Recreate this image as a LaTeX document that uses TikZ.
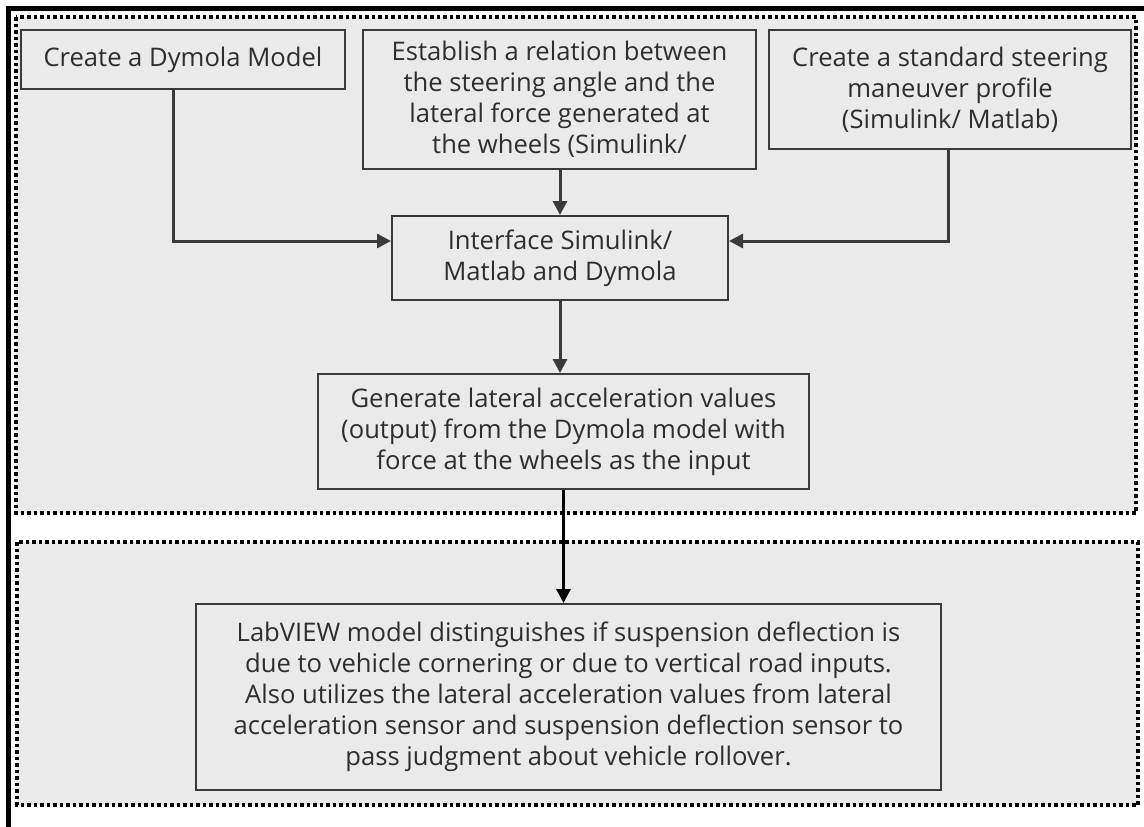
\documentclass[tikz,border=0pt]{standalone}
\usepackage{fontspec}
\setmainfont{Open Sans}
\usetikzlibrary{arrows.meta}
\definecolor{gridgray}{HTML}{EAEAEA}
\definecolor{boxline}{HTML}{3A3A3A}
\tikzset{
  region/.style={fill=gridgray, draw=black, line width=3.5pt, dash pattern=on 3.5pt off 3pt},
  stepbox/.style={draw=boxline, line width=2pt, align=center, inner sep=0pt,
    font=\fontsize{25.6}{31}\selectfont, text=black!82},
  flow/.style={draw=boxline, line width=3pt, -{Triangle[length=14pt,width=14pt]}},
  mainflow/.style={draw=black, line width=3pt, -{Triangle[length=14pt,width=14pt]}},
}
\begin{document}
\begin{tikzpicture}[x=1pt,y=-1pt]
\useasboundingbox (0,0) rectangle (1144,827);
\fill[white] (0,0) rectangle (1144,827);
\draw[region] (16,17) rectangle (1136,513);
\draw[region] (17,542) rectangle (1138,805);
\draw[line width=5pt] (8,840) -- (8,8) -- (1160,8);

\node[stepbox, minimum width=324pt, minimum height=59pt] (b1) at (183,59.5) {Create a Dymola Model};
\node[stepbox, minimum width=393pt, minimum height=139pt] (b2) at (559.5,99.5)
  {Establish a relation between\\the steering angle and the\\lateral force generated at\\the wheels (Simulink/};
\node[stepbox, minimum width=362pt, minimum height=119pt] (b3) at (950,89.5)
  {Create a standard steering\\maneuver profile\\(Simulink/ Matlab)};
\node[stepbox, minimum width=336pt, minimum height=84pt] (b4) at (560,258)
  {Interface Simulink/\\Matlab and Dymola};
\node[stepbox, minimum width=491pt, minimum height=115pt] (b5) at (563.5,431.5)
  {Generate lateral acceleration values\\(output) from the Dymola model with\\force at the wheels as the input};
\node[stepbox, minimum width=745pt, minimum height=186pt] (b6) at (568.5,697)
  {LabVIEW model distinguishes if suspension deflection is\\due to vehicle cornering or due to vertical road inputs.\\Also utilizes the lateral acceleration values from lateral\\acceleration sensor and suspension deflection sensor to\\pass judgment about vehicle rollover.};

\coordinate (c1) at (173,241);
\coordinate (c3) at (948,241);
\draw[flow] (b1.south -| c1) -- (c1) -- (b4.west |- c1);
\draw[flow] (b3.south -| c3) -- (c3) -- (b4.east |- c3);
\draw[flow] (b2.south -| b4.north) -- (b4.north);
\draw[flow] (b4.south) -- (b4.south |- b5.north);
\draw[mainflow] (b5.south) -- (b5.south |- b6.north);
\end{tikzpicture}
\end{document}
